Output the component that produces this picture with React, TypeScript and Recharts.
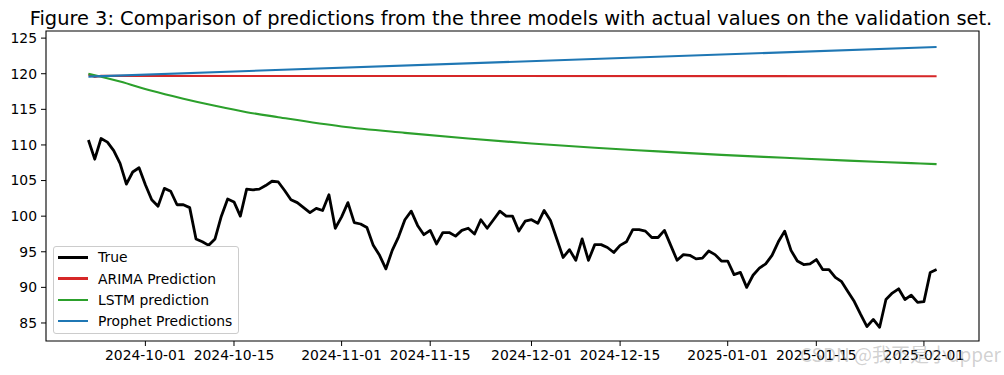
import React from 'react';
import { LineChart, Line, XAxis, YAxis, ReferenceArea, Legend } from 'recharts';

// Day offsets are relative to 2024-10-01; the series starts on 2024-09-22 (day -9).
const trueStartDay = -9;
const trueValues = [
  110.7, 108.0, 110.9, 110.4, 109.2, 107.4, 104.5, 106.2, 106.8,
  104.4, 102.3, 101.4, 103.9, 103.5, 101.6, 101.6, 101.2, 96.8, 96.4,
  95.9, 96.8, 100.0, 102.4, 102.0, 100.0, 103.8, 103.7, 103.8, 104.3,
  104.9, 104.8, 103.6, 102.3, 101.9, 101.2, 100.5, 101.1, 100.8, 103.0,
  98.3, 99.9, 101.9, 99.1, 98.9, 98.4, 95.9, 94.5, 92.6, 95.2,
  97.1, 99.5, 100.7, 98.7, 97.4, 98.0, 96.1, 97.7, 97.7, 97.2,
  98.0, 98.3, 97.5, 99.5, 98.3, 99.5, 100.7, 100.0, 100.0, 97.9,
  99.3, 99.5, 99.0, 100.8, 99.4, 96.8, 94.2, 95.3, 93.8, 96.8,
  93.8, 96.0, 96.0, 95.6, 94.9, 95.9, 96.4, 98.1, 98.1, 97.9,
  97.0, 97.0, 98.0, 95.9, 93.8, 94.6, 94.5, 94.0, 94.1, 95.1,
  94.6, 93.7, 93.7, 91.8, 92.1, 90.0, 91.7, 92.7, 93.3, 94.5,
  96.4, 97.9, 95.2, 93.7, 93.2, 93.3, 93.9, 92.5, 92.5, 91.4,
  90.8, 89.4, 88.0, 86.2, 84.5, 85.5, 84.4, 88.3, 89.2, 89.8,
  88.3, 88.9, 87.9, 88.0, 92.1, 92.5,
];

const arimaDays = [-9, -8, -7, 125];
const arimaValues = [119.9, 119.55, 119.7, 119.65];

const lstmDays = [-9, -4, 1, 6, 11, 16, 21, 31, 41, 51, 61, 71, 81, 91, 101, 111, 121, 125];
const lstmValues = [120.0, 118.9, 117.6, 116.5, 115.5, 114.6, 113.9, 112.6, 111.7, 110.9, 110.2, 109.6, 109.1, 108.6, 108.2, 107.8, 107.45, 107.3];

const prophetDays = [-9, 125];
const prophetValues = [119.6, 123.75];

const xTickDays = [0, 14, 31, 45, 61, 75, 92, 106, 123];
const xTickLabels = ['2024-10-01', '2024-10-15', '2024-11-01', '2024-11-15', '2024-12-01', '2024-12-15', '2025-01-01', '2025-01-15', '2025-02-01'];
const yTicks = [85, 90, 95, 100, 105, 110, 115, 120, 125];

const seriesNames = ['True', 'ARIMA Prediction', 'LSTM prediction', 'Prophet Predictions'];
const seriesColors = ['#000000', '#d62728', '#2ca02c', '#1f77b4'];
const seriesWidths = [2.8, 2.1, 2.1, 2.1];

const title = 'Figure 3: Comparison of predictions from the three models with actual values on the validation set.';
const watermark = 'CSDN @我不是小upper';

const X_DOMAIN: [number, number] = [-15.7, 131.7];
const Y_DOMAIN: [number, number] = [82.47, 126.0];

function buildData() {
  const rows: any[] = trueValues.map((v, i) => ({ day: trueStartDay + i, trueV: v }));
  const byDay = new Map<number, any>();
  rows.forEach((r) => byDay.set(r.day, r));
  const put = (days: number[], vals: number[], key: string) => {
    days.forEach((d, i) => {
      let r = byDay.get(d);
      if (!r) {
        r = { day: d };
        byDay.set(d, r);
        rows.push(r);
      }
      r[key] = vals[i];
    });
  };
  put(arimaDays, arimaValues, 'arima');
  put(lstmDays, lstmValues, 'lstm');
  put(prophetDays, prophetValues, 'prophet');
  rows.sort((a, b) => a.day - b.day);
  return rows;
}

const data = buildData();
const FONT = 'DejaVu Sans, sans-serif';

function LegendBox() {
  return (
    <div
      style={{
        position: 'relative',
        width: 186,
        height: 88,
        boxSizing: 'border-box',
        border: '1px solid #cccccc',
        borderRadius: 3,
        background: 'rgba(255,255,255,0.8)',
        fontFamily: FONT,
        fontSize: 13.9,
        color: '#000',
      }}
    >
      {seriesNames.map((n, i) => (
        <div key={n} style={{ position: 'absolute', left: 0, top: 11.3 + i * 21.2 - 10, height: 20, width: '100%' }}>
          <div
            style={{
              position: 'absolute',
              left: 4,
              top: 10 - seriesWidths[i] / 2 - 1,
              width: 30,
              height: seriesWidths[i],
              background: seriesColors[i],
            }}
          />
          <div style={{ position: 'absolute', left: 44, top: 0, lineHeight: '18px', whiteSpace: 'nowrap' }}>{n}</div>
        </div>
      ))}
    </div>
  );
}

export default function App() {
  return (
    <div style={{ position: 'absolute', left: 0, top: 0, width: 1004, height: 375, background: '#fff' }}>
      <LineChart
        width={1004}
        height={375}
        data={data}
        margin={{ top: 31, right: 25, bottom: 0, left: 0 }}
      >
        <XAxis
          dataKey="day"
          type="number"
          domain={X_DOMAIN}
          ticks={xTickDays}
          tickFormatter={(d: number) => xTickLabels[xTickDays.indexOf(d)] ?? ''}
          allowDataOverflow
          height={34}
          axisLine={false}
          tickLine={{ stroke: '#000', strokeWidth: 1 }}
          tickSize={5}
          tickMargin={4}
          tick={{ fill: '#000', fontSize: 13.9, fontFamily: FONT }}
          interval={0}
        />
        <YAxis
          type="number"
          domain={Y_DOMAIN}
          ticks={yTicks}
          allowDataOverflow
          width={46}
          axisLine={false}
          tickLine={{ stroke: '#000', strokeWidth: 1 }}
          tickSize={5}
          tickMargin={4}
          tick={{ fill: '#000', fontSize: 13.9, fontFamily: FONT }}
          interval={0}
        />
        <ReferenceArea
          x1={X_DOMAIN[0]}
          x2={X_DOMAIN[1]}
          y1={Y_DOMAIN[0]}
          y2={Y_DOMAIN[1]}
          fill="none"
          stroke="#000"
          strokeWidth={1.1}
          ifOverflow="visible"
        />
        <Line dataKey="trueV" name={seriesNames[0]} stroke={seriesColors[0]} strokeWidth={seriesWidths[0]} dot={false} activeDot={false} type="linear" connectNulls isAnimationActive={false} strokeLinejoin="round" />
        <Line dataKey="arima" name={seriesNames[1]} stroke={seriesColors[1]} strokeWidth={seriesWidths[1]} dot={false} activeDot={false} type="linear" connectNulls isAnimationActive={false} />
        <Line dataKey="lstm" name={seriesNames[2]} stroke={seriesColors[2]} strokeWidth={seriesWidths[2]} dot={false} activeDot={false} type="monotone" connectNulls isAnimationActive={false} />
        <Line dataKey="prophet" name={seriesNames[3]} stroke={seriesColors[3]} strokeWidth={seriesWidths[3]} dot={false} activeDot={false} type="linear" connectNulls isAnimationActive={false} />
        <Legend
          layout="vertical"
          align="center"
          verticalAlign="middle"
          wrapperStyle={{ left: 53, top: 246, width: 186, height: 88 }}
          content={() => <LegendBox />}
        />
      </LineChart>
      <svg width={1004} height={375} style={{ position: 'absolute', left: 0, top: 0, pointerEvents: 'none' }}>
        <text x={511} y={25} textAnchor="middle" fontFamily={FONT} fontSize={19.4} fill="#000">
          {title}
        </text>
        <text x={800} y={362} fontFamily="'Noto Sans CJK SC', sans-serif" fontSize={19} fill="#999" fillOpacity={0.45}>
          {watermark}
        </text>
      </svg>
    </div>
  );
}
